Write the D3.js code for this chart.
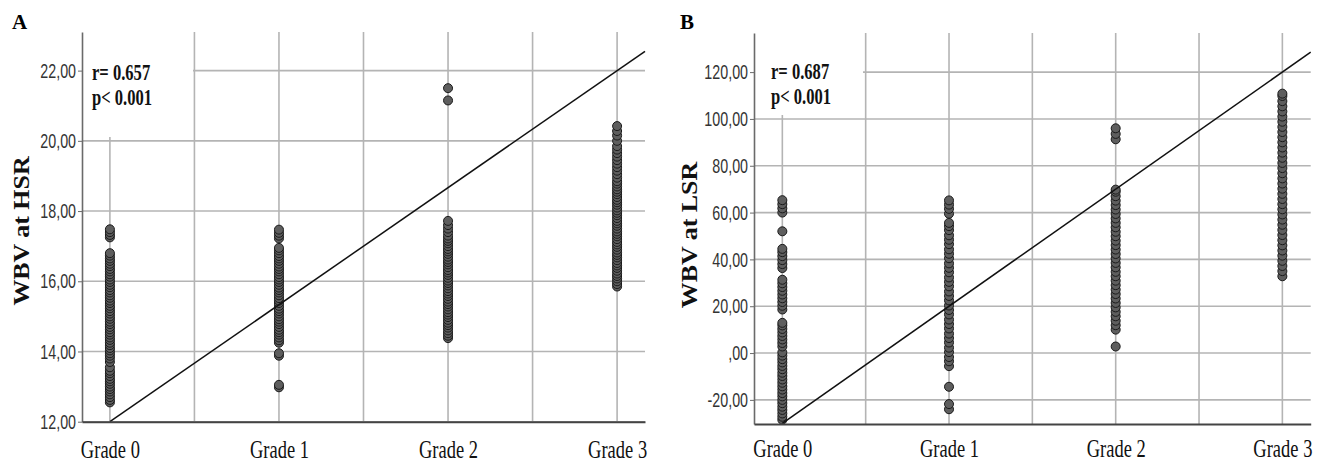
<!DOCTYPE html>
<html>
<head>
<meta charset="utf-8">
<script src="https://cdn.jsdelivr.net/npm/d3@7/dist/d3.min.js"></script>
<style>
	body { margin: 0; background: #fff; }
	svg { display: block; }
</style>
</head>
<body>
<svg id="chart" width="1337" height="463"></svg>
<script>

var grades = ["Grade 0", "Grade 1", "Grade 2", "Grade 3"]

// panel A : WBV at HSR
var hsrTicks = [12, 14, 16, 18, 20, 22]
var hsrTickLabels = ["12,00", "14,00", "16,00", "18,00", "20,00", "22,00"]
var hsrG0 = [12.55,12.62,12.7,12.78,12.86,12.93,13.0,13.08,13.15,13.22,13.3,13.38,13.45,13.55,13.7,13.8,13.88,13.95,14.03,14.1,14.18,14.25,14.33,14.4,14.48,14.55,14.63,14.7,14.78,14.85,14.93,15.0,15.08,15.15,15.23,15.3,15.38,15.45,15.53,15.6,15.68,15.75,15.83,15.9,15.98,16.05,16.13,16.2,16.28,16.35,16.43,16.5,16.58,16.65,16.73,16.8,17.25,17.32,17.4,17.48]
var hsrG1 = [12.98,13.05,13.88,13.95,14.25,14.32,14.4,14.48,14.55,14.62,14.7,14.78,14.85,14.92,15.0,15.08,15.15,15.22,15.3,15.38,15.45,15.52,15.6,15.68,15.75,15.82,15.9,15.98,16.05,16.12,16.2,16.28,16.35,16.42,16.5,16.58,16.65,16.72,16.8,16.88,16.95,17.22,17.3,17.38,17.47]
var hsrG2 = [14.38,14.45,14.52,14.6,14.68,14.75,14.82,14.9,14.98,15.05,15.12,15.2,15.28,15.35,15.42,15.5,15.58,15.65,15.72,15.8,15.88,15.95,16.02,16.1,16.18,16.25,16.32,16.4,16.48,16.55,16.62,16.7,16.78,16.85,16.92,17.0,17.08,17.15,17.22,17.3,17.4,17.5,17.6,17.72,21.15,21.5]
var hsrG3 = [15.85,15.92,16.0,16.08,16.15,16.22,16.3,16.38,16.45,16.52,16.6,16.68,16.75,16.82,16.9,16.98,17.05,17.12,17.2,17.28,17.35,17.42,17.5,17.58,17.65,17.72,17.8,17.88,17.95,18.02,18.1,18.18,18.25,18.32,18.4,18.48,18.55,18.62,18.7,18.78,18.85,18.95,19.05,19.15,19.25,19.35,19.45,19.55,19.65,19.75,19.85,20.0,20.15,20.28,20.42]
var hsrFit = [12.0, 3.333]   // intercept, slope per grade
var hsrStats = ["r= 0.657", "p< 0.001"]

// panel B : WBV at LSR
var lsrTicks = [-20, 0, 20, 40, 60, 80, 100, 120]
var lsrTickLabels = ["-20,00", ",00", "20,00", "40,00", "60,00", "80,00", "100,00", "120,00"]
var lsrG0 = [-28.5,-27.2,-25.8,-24.3,-22.9,-21.4,-20.0,-18.5,-17.1,-15.6,-14.2,-12.7,-11.3,-9.8,-8.4,-6.9,-5.5,-4.0,-2.6,-1.1,0.3,2.8,4.3,5.8,7.3,8.8,10.3,11.8,12.9,18.6,20.2,21.8,23.4,25.0,26.6,28.2,29.8,31.3,36.3,38.0,39.7,41.4,43.1,44.5,52.0,60.0,61.8,63.6,65.3]
var lsrG1 = [-24.0,-21.8,-14.4,-5.6,-3.5,-1.7,0.4,2.3,4.5,6.4,8.3,10.5,12.4,14.3,16.5,18.4,20.3,22.5,24.4,26.3,28.5,30.4,32.3,34.5,36.4,38.3,40.5,42.4,44.3,46.5,48.4,50.3,52.5,54.2,55.6,59.5,61.6,63.4,65.2]
var lsrG2 = [2.8,10.0,11.9,13.8,15.7,17.6,19.5,21.4,23.3,25.2,27.1,29.0,30.9,32.8,34.7,36.6,38.5,40.4,42.3,44.2,46.1,48.0,49.9,51.8,53.7,55.6,57.5,59.4,61.3,63.2,65.1,67.0,68.9,69.8,91.3,93.6,96.0]
var lsrG3 = [32.8,35.0,37.2,39.4,41.6,43.8,46.0,48.2,50.4,52.6,54.8,57.0,59.2,61.4,63.6,65.8,68.0,70.2,72.4,74.6,76.8,79.0,81.2,83.4,85.6,87.8,90.0,92.2,94.4,96.6,98.8,101.0,103.2,105.4,107.6,109.8,110.8]
var lsrFit = [-30.0, 50.0]
var lsrStats = ["r= 0.687", "p< 0.001"]


var svg = d3.select("#chart")

var serif = "'Liberation Serif', 'Times New Roman', serif"
var sans = "'Liberation Sans', Arial, sans-serif"

function drawPanel(cfg){

	var g = svg.append("g")

	var x = d3.scalePoint()
		.domain(grades)
		.range([cfg.left, cfg.right])
		.padding(cfg.pad)
	var step = x.step()

	var y = d3.scaleLinear()
		.domain(cfg.yDomain)
		.range([cfg.bottom, cfg.top])

	// grade index -> pixel, used for the fit line
	var xi = d3.scaleLinear().domain([0, 3]).range([x(grades[0]), x(grades[3])])

	// horizontal grid
	g.append("g").selectAll("line")
		.data(cfg.ticks)
		.enter().append("line")
		.attr("x1", cfg.left).attr("x2", cfg.right)
		.attr("y1", function(d){ return y(d) }).attr("y2", function(d){ return y(d) })
		.attr("stroke", "#b4b4b4").attr("stroke-width", 1.6)

	// vertical grid : on every grade and between them
	var vx = []
	grades.forEach(function(gr, i){
		vx.push(x(gr))
		if(i < grades.length - 1){ vx.push(x(gr) + step / 2) }
	})
	g.append("g").selectAll("line")
		.data(vx)
		.enter().append("line")
		.attr("x1", function(d){ return d }).attr("x2", function(d){ return d })
		.attr("y1", cfg.top).attr("y2", cfg.bottom)
		.attr("stroke", "#b4b4b4").attr("stroke-width", 1.6)

	// white box behind the stats text
	g.append("rect")
		.attr("x", cfg.left + 1).attr("y", cfg.top)
		.attr("width", cfg.boxW).attr("height", cfg.boxH)
		.attr("fill", "#fff")

	cfg.stats.forEach(function(s, i){
		g.append("text")
			.attr("transform", "translate(" + cfg.statX + "," + (cfg.statY + i * 25) + ") scale(0.72,1)")
			.attr("font-family", serif)
			.attr("font-weight", "bold")
			.attr("font-size", 23)
			.attr("fill", "#111")
			.text(s)
	})

	// points
	var pts = []
	cfg.series.forEach(function(arr, i){
		arr.forEach(function(v){ pts.push({"g": grades[i], "v": v}) })
	})
	g.append("g").selectAll("circle")
		.data(pts)
		.enter().append("circle")
		.attr("cx", function(d){ return x(d.g) })
		.attr("cy", function(d){ return y(d.v) })
		.attr("r", 4.5)
		.attr("fill", "#5e5e5e")
		.attr("stroke", "#1a1a1a")
		.attr("stroke-width", 1)

	// fit line
	var iEnd = xi.invert(cfg.right)
	g.append("line")
		.attr("x1", xi(0)).attr("y1", y(cfg.fit[0]))
		.attr("x2", xi(iEnd)).attr("y2", y(cfg.fit[0] + cfg.fit[1] * iEnd))
		.attr("stroke", "#111").attr("stroke-width", 1.5)

	// y axis
	var yAxis = g.append("g")
		.attr("transform", "translate(" + cfg.left + ",0)")
		.call(d3.axisLeft(y).tickValues(cfg.ticks).tickFormat(function(d, i){ return cfg.tickLabels[i] }).tickSize(4).tickSizeOuter(0))
	yAxis.select(".domain").attr("stroke", "#6a6a6a").attr("stroke-width", 1.6)
	yAxis.selectAll(".tick line").attr("stroke", "#6a6a6a")
	yAxis.selectAll(".tick text")
		.attr("x", -6 / 0.68)
		.attr("transform", "scale(0.68,1)")
		.attr("font-family", sans)
		.attr("font-size", 21)
		.attr("fill", "#333")

	// x axis
	var xAxis = g.append("g")
		.attr("transform", "translate(0," + cfg.bottom + ")")
		.call(d3.axisBottom(x).tickSize(0).tickSizeOuter(0))
	xAxis.select(".domain").attr("stroke", "#444").attr("stroke-width", 2)
	xAxis.selectAll(".tick text")
		.attr("y", 0).attr("dy", 0)
		.attr("transform", "translate(0," + cfg.labelDy + ") scale(0.74,1)")
		.attr("font-family", serif)
		.attr("font-size", 25)
		.attr("fill", "#111")

	// y title
	g.append("text")
		.attr("transform", "translate(" + cfg.titleX + "," + cfg.titleY + ") rotate(-90) scale(1.08,1)")
		.attr("text-anchor", "middle")
		.attr("font-family", serif)
		.attr("font-weight", "bold")
		.attr("font-size", 24)
		.attr("fill", "#111")
		.text(cfg.title)

	// panel letter
	g.append("text")
		.attr("x", cfg.letterX).attr("y", 29)
		.attr("font-family", serif)
		.attr("font-weight", "bold")
		.attr("font-size", 21)
		.attr("fill", "#000")
		.text(cfg.letter)
}

drawPanel({
	"left": 82, "right": 645, "top": 32, "bottom": 421.7, "pad": 0.165,
	"yDomain": [12, 23.1],
	"ticks": hsrTicks, "tickLabels": hsrTickLabels,
	"series": [hsrG0, hsrG1, hsrG2, hsrG3],
	"fit": hsrFit, "stats": hsrStats,
	"boxW": 110, "boxH": 105, "statX": 92, "statY": 80,
	"labelDy": 36,
	"title": "WBV at HSR", "titleX": 29, "titleY": 231,
	"letter": "A", "letterX": 12
})

drawPanel({
	"left": 754, "right": 1310.7, "top": 33, "bottom": 424, "pad": 0.17,
	"yDomain": [-30.3, 136.7],
	"ticks": lsrTicks, "tickLabels": lsrTickLabels,
	"series": [lsrG0, lsrG1, lsrG2, lsrG3],
	"fit": lsrFit, "stats": lsrStats,
	"boxW": 108, "boxH": 82, "statX": 771, "statY": 79,
	"labelDy": 33,
	"title": "WBV at LSR", "titleX": 697, "titleY": 235,
	"letter": "B", "letterX": 680
})

</script>
</body>
</html>
